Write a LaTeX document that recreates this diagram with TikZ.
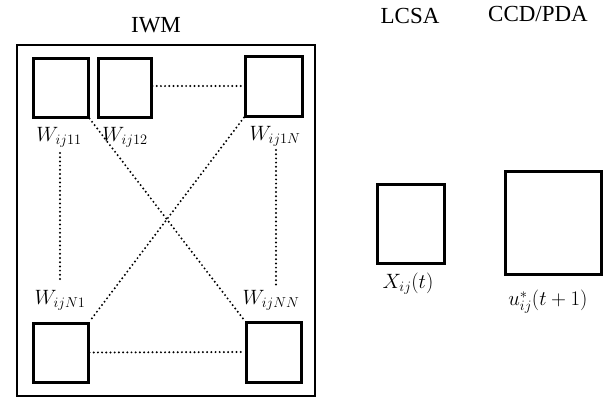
\documentclass[tikz,border=0pt]{standalone}
\usepackage{fontspec}
\setmainfont{Liberation Serif}
\begin{document}
\begin{tikzpicture}[x=1pt,y=-1pt,
  cell/.style={draw,line width=3pt,inner sep=0pt,rectangle},
  frame/.style={draw,line width=2.6pt,inner sep=0pt,rectangle},
  lab/.style={inner sep=1pt,font=\fontsize{22}{24}\selectfont},
  ttl/.style={inner sep=1pt,font=\fontsize{23}{26}\selectfont},
  link/.style={line width=2.2pt,dash pattern=on 0pt off 4.2pt,line cap=round}]
\useasboundingbox (0,0) rectangle (613,399);
% titles
\node[ttl] (tiwm) at (156,25) {IWM};
\node[ttl] (tlcsa) at (410,16) {LCSA};
\node[ttl] (tccd) at (538,14) {CCD/PDA};
% IWM frame
\node[frame,minimum width=298,minimum height=351] (iwm) at (166,220.5) {};
% weight cells
\node[cell,minimum width=55,minimum height=59] (w11) at (60.5,87.5) {};
\node[cell,minimum width=53,minimum height=59] (w12) at (124.5,87.5) {};
\node[cell,minimum width=57,minimum height=60] (w1n) at (274,86) {};
\node[cell,minimum width=55,minimum height=59] (wn1) at (60.5,352.5) {};
\node[cell,minimum width=55,minimum height=60] (wnn) at (273.5,352) {};
% labels
\node[lab] (l11) at (59,137) {$W_{ij11}$};
\node[lab] (l12) at (125,137) {$W_{ij12}$};
\node[lab] (l1n) at (275,136) {$W_{ij1N}$};
\node[lab] (ln1) at (60,300) {$W_{ijN1}$};
\node[lab] (lnn) at (271,300) {$W_{ijNN}$};
% dotted links
\draw[link] (w12.east |- w1n.west) -- (w1n.west);
\draw[link] (wn1.east) -- (wnn.west);
\draw[link] (w11.south east) -- (wnn.north west);
\draw[link] (w1n.south west) -- (wn1.north east);
\coordinate (lt) at (60,153);
\coordinate (lb) at (60,280);
\coordinate (rt) at (276,150);
\coordinate (rb) at (276,285);
\draw[link] (lt) -- (lb);
\draw[link] (rt) -- (rb);
% LCSA and CCD/PDA cells
\node[cell,minimum width=67,minimum height=79] (xc) at (410.5,223.5) {};
\node[cell,minimum width=96,minimum height=103] (uc) at (553.5,223) {};
\node[lab] (lx) at (408,284) {$X_{ij}(t)$};
\node[lab] (lu) at (548,302) {$u_{ij}^{*}(t+1)$};
\end{tikzpicture}
\end{document}
